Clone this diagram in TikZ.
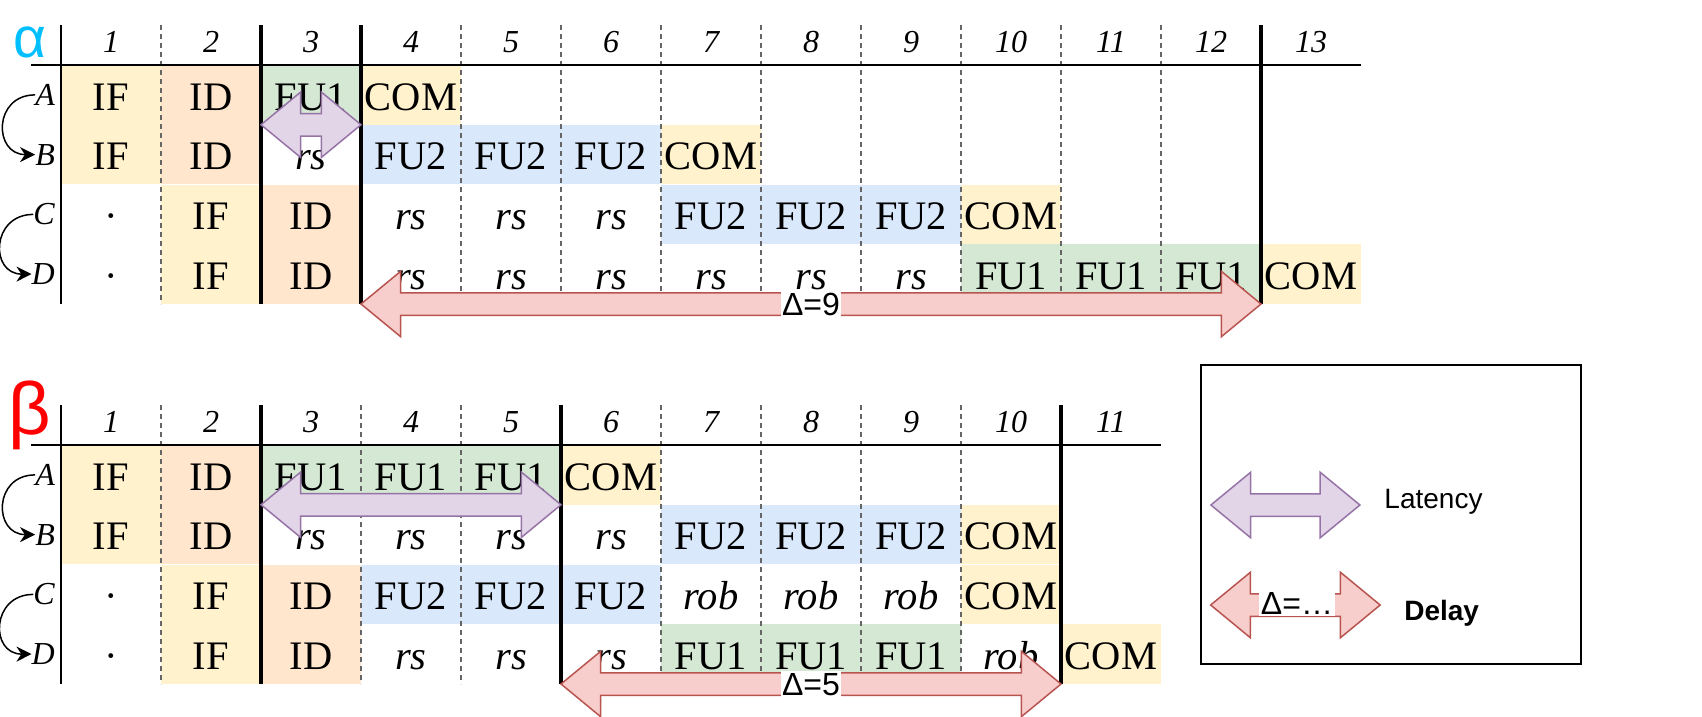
\documentclass[tikz,border=0pt]{standalone}
\usepackage{fontspec}
\setmainfont{Liberation Serif}
\setsansfont{Liberation Sans}
\usepackage{tikz}
\usetikzlibrary{shapes.arrows, arrows.meta}
\definecolor{fillIF}{HTML}{FFF2CC}
\definecolor{fillID}{HTML}{FFE6CC}
\definecolor{fillFUa}{HTML}{D5E8D4}
\definecolor{fillFUb}{HTML}{DAE8FC}
\definecolor{latFill}{HTML}{E1D5E7}
\definecolor{latDraw}{HTML}{9673A6}
\definecolor{delFill}{HTML}{F8CECC}
\definecolor{delDraw}{HTML}{B85450}
\definecolor{alphaBlue}{HTML}{00BFFF}
\tikzstyle{cell} = [rectangle, minimum width=100pt, minimum height=59.75pt, inner sep=0pt, text height=30.4pt, text depth=0pt, font=\fontsize{40.5}{42}\selectfont]
\tikzstyle{cIF} = [cell, fill=fillIF]
\tikzstyle{cID} = [cell, fill=fillID]
\tikzstyle{cFUa} = [cell, fill=fillFUa]
\tikzstyle{cFUb} = [cell, fill=fillFUb]
\tikzstyle{cCOM} = [cell, fill=fillIF]
\tikzstyle{cRS} = [cell, font=\fontsize{40.5}{42}\selectfont\itshape]
\tikzstyle{cDot} = [cell]
\tikzstyle{hdr} = [inner sep=0pt, text height=21.6pt, text depth=0pt, font=\fontsize{32}{34}\selectfont\itshape]
\tikzstyle{lbl} = [anchor=east, inner sep=0pt, text height=21pt, text depth=0pt, font=\fontsize{32}{34}\selectfont\itshape]
\tikzstyle{sepdash} = [draw=black!60, line width=1.3pt, dash pattern=on 5pt off 4pt]
\tikzstyle{septhin} = [draw=black, line width=1.6pt]
\tikzstyle{septhick} = [draw=black, line width=4pt]
\tikzstyle{latency} = [double arrow, draw=latDraw, fill=latFill, line width=1.5pt, text height=0pt, text depth=0pt, inner xsep=0pt, inner ysep=10.5pt, double arrow head extend=21.5pt, double arrow tip angle=79]
\tikzstyle{delay} = [double arrow, draw=delDraw, fill=delFill, line width=1.5pt, text height=0pt, text depth=0pt, inner xsep=0pt, inner ysep=10.5pt, double arrow head extend=21.5pt, double arrow tip angle=79]
\tikzstyle{dlabel} = [fill=white, inner sep=1.5pt, text height=23pt, text depth=0pt, font=\sffamily\fontsize{32}{34}\selectfont]
\tikzstyle{legtext} = [inner sep=0pt, text height=20pt, text depth=0pt, font=\sffamily\fontsize{28}{30}\selectfont]
\tikzstyle{legendbox} = [rectangle, draw=black, line width=2pt, minimum width=380pt, minimum height=299pt]
\tikzstyle{order} = [line width=1.5pt, -{Stealth[length=15pt, width=15pt]}]

\begin{document}
\begin{tikzpicture}[x=1pt, y=-1pt]
		\useasboundingbox (0,0) rectangle (1702,716);
		
		\node (alpha) [anchor=base, inner sep=0pt, text=alphaBlue, font=\sffamily\fontsize{57}{60}\selectfont] at (30,57) {α};
		\node (beta) [anchor=base, inner sep=0pt, text=red, font=\sffamily\fontsize{74}{76}\selectfont] at (30,434) {β};
		
		\foreach \c/\t/\s in {1/IF/cIF, 2/ID/cID, 3/FU1/cFUa, 4/COM/cCOM}
			\node (aA\c) [\s] at (11+100*\c, 94.9) {\t};
		\foreach \c/\t/\s in {1/IF/cIF, 2/ID/cID, 3/rs/cRS, 4/FU2/cFUb, 5/FU2/cFUb, 6/FU2/cFUb, 7/COM/cCOM}
			\node (aB\c) [\s] at (11+100*\c, 154.6) {\t};
		\foreach \c/\t/\s in {1/·/cDot, 2/IF/cIF, 3/ID/cID, 4/rs/cRS, 5/rs/cRS, 6/rs/cRS, 7/FU2/cFUb, 8/FU2/cFUb, 9/FU2/cFUb, 10/COM/cCOM}
			\node (aC\c) [\s] at (11+100*\c, 214.4) {\t};
		\foreach \c/\t/\s in {1/·/cDot, 2/IF/cIF, 3/ID/cID, 4/rs/cRS, 5/rs/cRS, 6/rs/cRS, 7/rs/cRS, 8/rs/cRS, 9/rs/cRS, 10/FU1/cFUa, 11/FU1/cFUa, 12/FU1/cFUa, 13/COM/cCOM}
			\node (aD\c) [\s] at (11+100*\c, 274.1) {\t};
		
		\foreach \c/\t/\s in {1/IF/cIF, 2/ID/cID, 3/FU1/cFUa, 4/FU1/cFUa, 5/FU1/cFUa, 6/COM/cCOM}
			\node (bA\c) [\s] at (11+100*\c, 474.9) {\t};
		\foreach \c/\t/\s in {1/IF/cIF, 2/ID/cID, 3/rs/cRS, 4/rs/cRS, 5/rs/cRS, 6/rs/cRS, 7/FU2/cFUb, 8/FU2/cFUb, 9/FU2/cFUb, 10/COM/cCOM}
			\node (bB\c) [\s] at (11+100*\c, 534.6) {\t};
		\foreach \c/\t/\s in {1/·/cDot, 2/IF/cIF, 3/ID/cID, 4/FU2/cFUb, 5/FU2/cFUb, 6/FU2/cFUb, 7/rob/cRS, 8/rob/cRS, 9/rob/cRS, 10/COM/cCOM}
			\node (bC\c) [\s] at (11+100*\c, 594.4) {\t};
		\foreach \c/\t/\s in {1/·/cDot, 2/IF/cIF, 3/ID/cID, 4/rs/cRS, 5/rs/cRS, 6/rs/cRS, 7/FU1/cFUa, 8/FU1/cFUa, 9/FU1/cFUa, 10/rob/cRS, 11/COM/cCOM}
			\node (bD\c) [\s] at (11+100*\c, 654.1) {\t};
		
		\foreach \x in {161,461,561,661,761,861,961,1061,1161}
			\draw [sepdash] (\x,25) -- (\x,304);
		\foreach \x in {261,361,1261}
			\draw [septhick] (\x,25) -- (\x,304);
		\draw [septhin] (61,25) -- (61,304);
		\draw [septhin] (31,65) -- (1361,65);
		
		\foreach \x in {161,361,461,661,761,861,961}
			\draw [sepdash] (\x,405) -- (\x,684);
		\foreach \x in {261,561,1061}
			\draw [septhick] (\x,405) -- (\x,684);
		\draw [septhin] (61,405) -- (61,684);
		\draw [septhin] (31,445) -- (1161,445);
		
		\foreach \c in {1,...,13}
			\node (ah\c) [hdr] at (11+100*\c, 42) {\c};
		\foreach \c in {1,...,11}
			\node (bh\c) [hdr] at (11+100*\c, 422) {\c};
		
		\node (aLA) [lbl] at (55,94.9) {A};
		\node (aLB) [lbl] at (55,154.6) {B};
		\node (aLC) [lbl] at (55,214.4) {C};
		\node (aLD) [lbl] at (55,274.1) {D};
		\node (bLA) [lbl] at (55,474.9) {A};
		\node (bLB) [lbl] at (55,534.6) {B};
		\node (bLC) [lbl] at (55,594.4) {C};
		\node (bLD) [lbl] at (55,654.1) {D};
		
		\draw [order] (aLA.west) to[out=180, in=180, looseness=1.8] (aLB.west);
		\draw [order] (aLC.west) to[out=180, in=180, looseness=1.8] (aLD.west);
		\draw [order] (bLA.west) to[out=180, in=180, looseness=1.8] (bLB.west);
		\draw [order] (bLC.west) to[out=180, in=180, looseness=1.8] (bLD.west);
		
		\node (latA) [latency, minimum height=100pt] at (311,124.75) {};
		\node (delA) [delay, minimum height=900pt] at (811,304) {};
		\node (dA) [dlabel] at (811,304) {Δ=9};
		
		\node (latB) [latency, minimum height=300pt] at (411,504.75) {};
		\node (delB) [delay, minimum height=500pt] at (811,684) {};
		\node (dB) [dlabel] at (811,684) {Δ=5};
		
		\node (legend) [legendbox] at (1391,514.5) {};
		\node (latL) [latency, minimum height=149pt] at (1285.4,505) {};
		\node (latT) [legtext] at (1433.5,498) {Latency};
		\node (delL) [delay, minimum height=169.5pt] at (1295.4,605) {};
		\node (delLT) [dlabel] at (1297,603) {Δ=…};
		\node (delT) [legtext, font=\sffamily\bfseries\fontsize{28}{30}\selectfont] at (1441.7,610) {Delay};
		
\end{tikzpicture}
\end{document}
